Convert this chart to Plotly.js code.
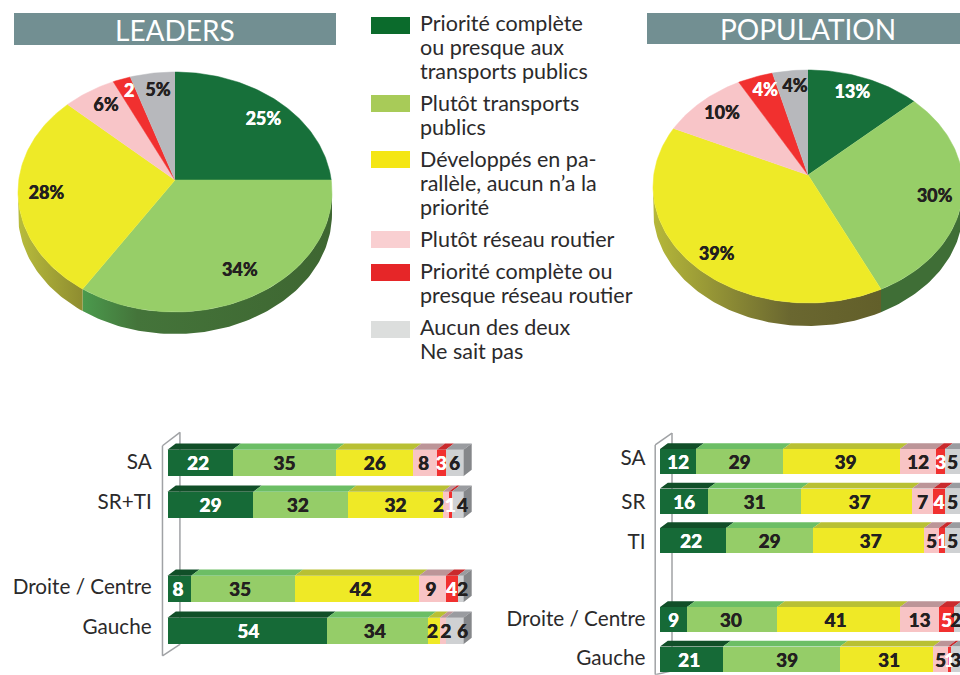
<!DOCTYPE html>
<html>
<head>
<meta charset="utf-8">
<script src="https://cdn.plot.ly/plotly-3.0.1.min.js"></script>
<style>html,body{margin:0;padding:0;background:#fff}#chart{width:960px;height:675px}</style>
</head>
<body>
<div id="chart"></div>
<script>
// ---------- data ----------
const seriesNames = ["Priorité complète ou presque aux transports publics","Plutôt transports publics",
  "Développés en parallèle, aucun n’a la priorité","Plutôt réseau routier",
  "Priorité complète ou presque réseau routier","Aucun des deux / Ne sait pas"];
const leadersPie = [25,34,28,6,2,5];
const populationPie = [13,30,39,10,4,4];
const leadersPieLabels = ["25%","34%","28%","6%","2","5%"];
const populationPieLabels = ["13%","30%","39%","10%","4%","4%"];

const leadersRows = ["SA","SR+TI","Droite / Centre","Gauche"];
const leadersS1 = [22,29,8,54];
const leadersS2 = [35,32,35,34];
const leadersS3 = [26,32,42,4];
const leadersS4 = [8,2,9,2];
const leadersS5 = [3,1,4,0];
const leadersS6 = [6,4,2,6];

const populationRows = ["SA","SR","TI","Droite / Centre","Gauche"];
const populationS1 = [12,16,22,9,21];
const populationS2 = [29,31,29,30,39];
const populationS3 = [39,37,37,41,31];
const populationS4 = [12,7,5,13,5];
const populationS5 = [3,4,2,5,1];
const populationS6 = [5,5,5,2,3];

const legendLines = [["Priorité complète","ou presque aux","transports publics"],["Plutôt transports","publics"],
  ["Développés en pa-","rallèle, aucun n’a la","priorité"],["Plutôt réseau routier"],
  ["Priorité complète ou","presque réseau routier"],["Aucun des deux","Ne sait pas"]];

// ---------- styles ----------
const FONT = "Lato, 'Open Sans', sans-serif";
const INK = "#231f20";
const pieColors = ["#17703a","#97ce68","#eeea27","#f8c5c8","#f1302f","#b7b8bc"];
const pieInk = ["#fff",INK,INK,INK,"#fff",INK];
const barColors = ["#166a37","#95cd68","#efe926","#f8c4c5","#f1302f","#cfd1d3"];
const barInk = ["#fff",INK,INK,INK,"#fff",INK];
const topColors = ["#114f28","#6cbe65","#b8c034","#bc9598","#c92a2d","#9a9ca0"];
const legendColors = ["#0b6b2c","#a8cb58","#f4e614","#f9cfd1","#e62628","#dcdedd"];
const sideColor = "#85878a";
const frameColor = "#a0a2a5";
const legendSwatchY = [17,95,151,231,264,321];
const legendFirstLineY = [23,103,159,239,271,327];

const traces = [];
const shapes = [];
const annotations = [];

function boldText(x,y,text,colors,size,X,Y){
  [...new Set(colors)].forEach(c=>{
    const idx = colors.map((k,i)=>k===c?i:-1).filter(i=>i>=0);
    traces.push({type:"scatter",mode:"text",xaxis:X,yaxis:Y,hoverinfo:"skip",showlegend:false,
      x:idx.map(i=>x[i]),y:idx.map(i=>y[i]),text:idx.map(i=>text[i]),textposition:"middle center",cliponaxis:false,
      textfont:{family:FONT,size:size,weight:900,color:c,shadow:"0.3px 0 0 "+c}});
  });
}

// ---------- pies ----------
function rimPoint(p, frac){
  const th = frac*2*Math.PI, dx = Math.sin(th)*p.rx, dy = -Math.cos(th)*p.ry*p.k;
  const off = p.ay-p.cy;
  const a = (dx/p.rx)**2+(dy/p.ry)**2, b = 2*off*dy/(p.ry*p.ry), c = (off/p.ry)**2-1;
  const t = (-b+Math.sqrt(b*b-4*a*c))/(2*a);
  return [p.ax+dx*t, p.ay+dy*t];
}
function drawPie(values, labels, p){
  const total = values.reduce((a,b)=>a+b,0);
  let acc = 0;
  const lx=[],ly=[],lc=[],lt=[];
  values.forEach((v,i)=>{
    const a = acc/total, b = (acc+v)/total; acc += v;
    const n = Math.max(4,Math.ceil(v*3));
    const pts = [];
    for(let j=0;j<=n;j++) pts.push(rimPoint(p,a+(b-a)*j/n));
    const low = pts.filter(q=>q[1]>=p.cy);
    if(low.length>1 && p.wall[i]){
      traces.push({type:"scatter",mode:"lines",xaxis:"x",yaxis:"y",hoverinfo:"skip",showlegend:false,
        x:low.map(q=>q[0]).concat(low.map(q=>q[0]).reverse()),
        y:low.map(q=>q[1]).concat(low.map(q=>q[1]+p.depth).reverse()),
        fill:"toself",line:{width:0},fillgradient:{type:"horizontal",colorscale:p.wall[i]}});
    }
    traces.push({type:"scatter",mode:"lines",xaxis:"x",yaxis:"y",hoverinfo:"skip",showlegend:false,
      name:seriesNames[i],
      x:[p.ax].concat(pts.map(q=>q[0])),y:[p.ay].concat(pts.map(q=>q[1])),
      fill:"toself",fillcolor:pieColors[i],line:{width:0.5,color:pieColors[i]}});
    const r = rimPoint(p,(a+b)/2), f = p.labelF[i];
    lx.push(p.ax+(r[0]-p.ax)*f+p.nudge[i][0]);
    ly.push(p.ay+(r[1]-p.ay)*f+p.nudge[i][1]);
    lc.push(pieInk[i]); lt.push(labels[i]);
  });
  boldText(lx,ly,lt,lc,18,"x","y");
}
drawPie(leadersPie,leadersPieLabels,{ax:175,ay:180,cx:175,cy:192,rx:157,ry:120,k:0.98,depth:22,
  labelF:[.82,.80,.82,.84,.88,.85],nudge:[[3,4],[-2,1],[0,2],[3,1],[1,1],[2,2]],
  wall:{1:[[0,"#4b9a4d"],[0.22,"#44743a"],[1,"#3e6631"]],2:[[0,"#b8bc3c"],[1,"#8e8c30"]]}});
drawPie(populationPie,populationPieLabels,{ax:808,ay:175,cx:808,cy:186.5,rx:155,ry:116.5,k:0.98,depth:23,
  labelF:[.83,.80,.80,.84,.85,.85],nudge:[[-3,-1],[3,5],[3,11],[3,1],[2,0],[2,1]],
  wall:{1:[[0,"#3f6e36"],[1,"#3f6e36"]],2:[[0,"#b6b83a"],[0.6,"#6a6730"],[1,"#625f2a"]]}});

// ---------- stacked 3D bars ----------
function drawBars(X,Y,rows,rowPos,series,opt){
  series.forEach((vals,i)=>{
    traces.push({type:"bar",orientation:"h",xaxis:X,yaxis:Y,x:vals,y:rowPos,width:opt.h,
      name:seriesNames[i],showlegend:false,hoverinfo:"skip",marker:{color:barColors[i],line:{width:0}}});
  });
  const cum = rows.map(()=>0);
  const lx=[],ly=[],lt=[],lc=[];
  series.forEach((vals,i)=>{
    const tx=[],ty=[];
    vals.forEach((v,r)=>{
      const s=cum[r],e=s+v,yt=rowPos[r]-opt.h/2;
      cum[r]=e;
      if(v>0){
        tx.push(s,e,e+opt.dx,s+opt.dx,s,null);
        ty.push(yt,yt,yt-opt.dy,yt-opt.dy,yt,null);
        const key=r+":"+i, n=opt.nudge[key]||0;
        lx.push((s+e)/2+n); ly.push(rowPos[r]+opt.textDy);
        lt.push(String(key in opt.override?opt.override[key]:v));
        lc.push(barInk[i]);
      }
    });
    traces.push({type:"scatter",mode:"lines",xaxis:X,yaxis:Y,hoverinfo:"skip",showlegend:false,
      x:tx,y:ty,fill:"toself",fillcolor:topColors[i],line:{width:0}});
  });
  const sx=[],sy=[];
  rowPos.forEach((y,r)=>{
    const e=cum[r],t=y-opt.h/2,b=y+opt.h/2;
    sx.push(e,e+opt.dx,e+opt.dx,e,e,null);
    sy.push(t,t-opt.dy,b-opt.dy,b,t,null);
  });
  traces.push({type:"scatter",mode:"lines",xaxis:X,yaxis:Y,hoverinfo:"skip",showlegend:false,
    x:sx,y:sy,fill:"toself",fillcolor:sideColor,line:{width:0}});
  boldText(lx,ly,lt,lc,19,X,Y);
}
const leftRowPos=[0,1,3,4], rightRowPos=[0,1,2,4,5];
const leftTickPos=[-0.04,0.92,2.95,3.9], rightTickPos=[-0.09,1.02,2.03,3.99,4.97];
drawBars("x2","y2",leadersRows,leftRowPos,[leadersS1,leadersS2,leadersS3,leadersS4,leadersS5,leadersS6],
  {h:0.626,dx:2.8,dy:0.15,textDy:0.06,
   override:{"3:2":2},
   nudge:{"0:0":-0.7,"1:1":-1,"1:3":-2.4,"1:5":1.7,"0:3":-0.5,"2:0":-0.5,"2:1":-1,"2:2":1.2,"2:3":-0.5,"2:5":0.7,
          "3:0":0.3,"3:1":-1,"3:2":-0.5,"3:3":1,"3:5":2.7}});
drawBars("x3","y3",populationRows,rightRowPos,[populationS1,populationS2,populationS3,populationS4,populationS5,populationS6],
  {h:0.633,dx:2.6,dy:0.145,textDy:0.07,
   override:{"2:4":1},
   nudge:{"0:2":1.3,"1:2":1,"2:2":0.7,"2:0":-0.7,"3:2":-1,"3:1":-0.4,"3:5":-0.5,"4:0":-0.8,"4:1":1.8,"4:2":0.8}});

// frames behind bars
function frame(xr,yr,x0,x1,yTop0,yTop1,yBot0,yBot1){
  const L={color:frameColor,width:1.5};
  [[x0,yTop0,x1,yTop1],[x0,yTop0,x0,yBot0],[x1,yTop1,x1,yBot1],[x0,yBot0,x1,yBot1]].forEach(s=>{
    shapes.push({type:"line",xref:xr,yref:yr,x0:s[0],y0:s[1],x1:s[2],y1:s[3],line:L,layer:"below"});
  });
}
frame("x2","y2",-1.7,4.2,-0.41,-0.73,4.59,4.32);
frame("x3","y3",-1.6,4.0,-0.42,-0.72,5.4,5.3);

// ---------- headers ----------
[["LEADERS",14,336,13,45,175],["POPULATION",647,960,13,44,808]].forEach(h=>{
  shapes.push({type:"rect",xref:"x",yref:"y",x0:h[1],x1:h[2],y0:h[3],y1:h[4],fillcolor:"#728f92",line:{width:0},layer:"below"});
  annotations.push({xref:"x",yref:"y",x:h[5],y:(h[3]+h[4])/2+0.5,text:h[0],showarrow:false,xanchor:"center",yanchor:"middle",
    font:{family:FONT,size:28,color:"#fff"}});
});

// ---------- legend ----------
legendLines.forEach((lines,i)=>{
  shapes.push({type:"rect",xref:"x",yref:"y",x0:371,x1:410,y0:legendSwatchY[i],y1:legendSwatchY[i]+17,
    fillcolor:legendColors[i],line:{width:0},layer:"below"});
  lines.forEach((t,j)=>{
    annotations.push({xref:"x",yref:"y",x:420,y:legendFirstLineY[i]+j*24,text:t,showarrow:false,
      xanchor:"left",yanchor:"middle",xshift:-2,font:{family:FONT,size:21.5,color:"#2b2a2b"}});
  });
});

const tickFont={family:FONT,size:20.7,color:"#2b2a2b"};
const layout={
  width:960,height:675,margin:{l:0,r:0,t:0,b:0,pad:0},paper_bgcolor:"#fff",plot_bgcolor:"rgba(0,0,0,0)",
  barmode:"stack",bargap:0,showlegend:false,hovermode:false,
  xaxis:{domain:[0,1],range:[0,960],visible:false,fixedrange:true},
  yaxis:{domain:[0,1],range:[675,0],visible:false,fixedrange:true,anchor:"x"},
  xaxis2:{domain:[152.7/960,480/960],range:[-5,105.6],visible:false,fixedrange:true,anchor:"y2"},
  yaxis2:{domain:[1-673/675,1-421/675],range:[5,-1],fixedrange:true,anchor:"x2",showgrid:false,zeroline:false,showline:false,
    tickmode:"array",tickvals:leftTickPos,ticktext:leadersRows,tickfont:tickFont,ticks:"",automargin:false},
  xaxis3:{domain:[646.5/960,1],range:[-4.5,100],visible:false,fixedrange:true,anchor:"y3"},
  yaxis3:{domain:[1-674.8/675,1-422/675],range:[5.4,-1],fixedrange:true,anchor:"x3",showgrid:false,zeroline:false,showline:false,
    tickmode:"array",tickvals:rightTickPos,ticktext:populationRows,tickfont:tickFont,ticks:"",automargin:false},
  shapes,annotations,
  font:{family:FONT}
};
Plotly.newPlot("chart",traces,layout,{displayModeBar:false,staticPlot:true});
</script>
</body>
</html>
